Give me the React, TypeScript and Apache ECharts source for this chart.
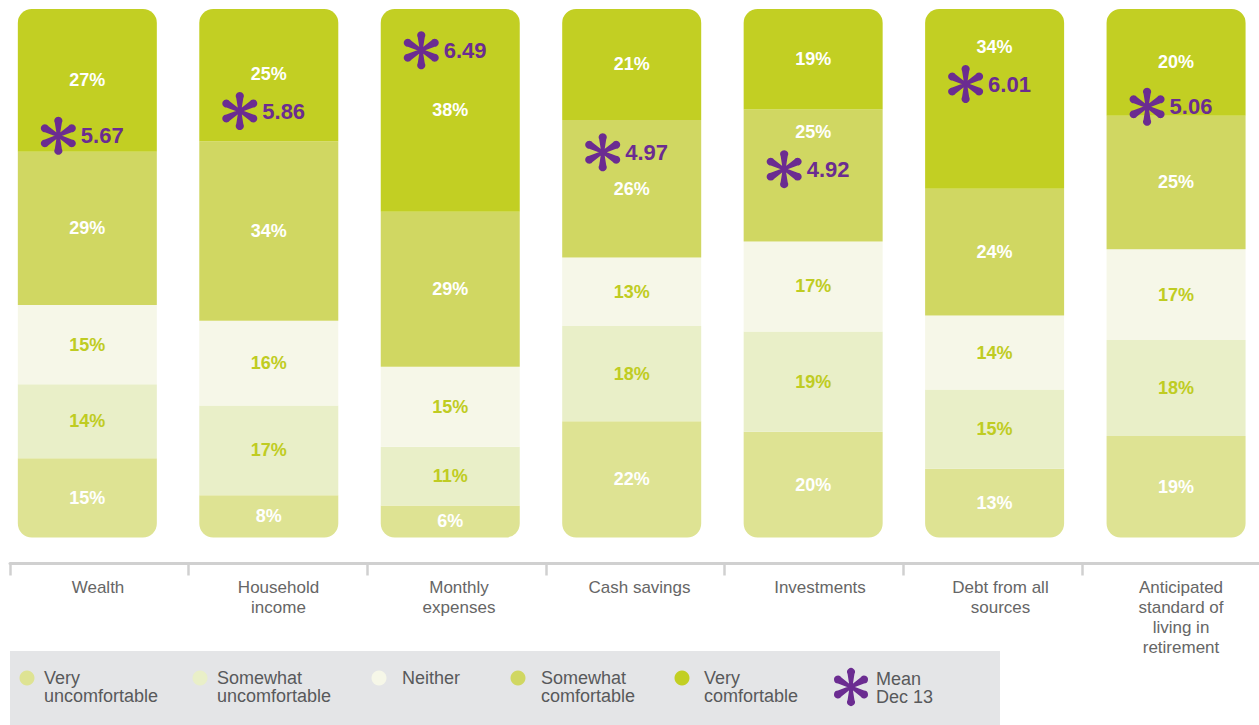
import React, { useEffect, useRef } from "react";
import * as echarts from "echarts";

const categories = [
  "Wealth",
  "Household\nincome",
  "Monthly\nexpenses",
  "Cash savings",
  "Investments",
  "Debt from all\nsources",
  "Anticipated\nstandard of\nliving in\nretirement",
];
const veryUncomfortable = [15, 8, 6, 22, 20, 13, 19];
const somewhatUncomfortable = [14, 17, 11, 18, 19, 15, 18];
const neither = [15, 16, 15, 13, 17, 14, 17];
const somewhatComfortable = [29, 34, 29, 26, 25, 24, 25];
const veryComfortable = [27, 25, 38, 21, 19, 34, 20];
const meanDec13 = [5.67, 5.86, 6.49, 4.97, 4.92, 6.01, 5.06];
// vertical level (on the 0-100 stack scale) where each mean marker sits
const meanMarkerLevel = [76.0, 80.7, 92.2, 72.9, 69.7, 85.8, 81.5];

const seriesNames = [
  "Very uncomfortable",
  "Somewhat uncomfortable",
  "Neither",
  "Somewhat comfortable",
  "Very comfortable",
];
const legendLabels = [
  "Very\nuncomfortable",
  "Somewhat\nuncomfortable",
  "Neither",
  "Somewhat\ncomfortable",
  "Very\ncomfortable",
];
const meanLegendLabel = "Mean\nDec 13";

const COLORS = ["#dee393", "#e9efc8", "#f6f7e8", "#d0d762", "#c2cf23"];
const LABEL_COLORS = ["#ffffff", "#bfcc22", "#bfcc22", "#ffffff", "#ffffff"];
const PURPLE = "#6b2c91";
const FONT = "'Liberation Sans', Arial, Helvetica, sans-serif";
const OFF = 20; // chart canvas is shifted left by this many px inside a clipping wrapper

function asteriskD(): string {
  const cx = 50, cy = 50;
  const parts: string[] = [];
  const pt = (u: number, v: number, th: number) => {
    const c = Math.cos(th), s = Math.sin(th);
    return [(cx + u * c - v * s).toFixed(2), (cy + u * s + v * c).toFixed(2)];
  };
  [-90, -30, 30, 90, 150, 210].forEach((deg) => {
    const th = (deg * Math.PI) / 180;
    const p1 = pt(0, -3.6, th);
    const p2 = pt(33, -8.66, th);
    const p3 = pt(33, 8.66, th);
    const p4 = pt(0, 3.6, th);
    parts.push(
      `M${p1[0]} ${p1[1]} L${p2[0]} ${p2[1]} A10 10 0 1 1 ${p3[0]} ${p3[1]} L${p4[0]} ${p4[1]} Z`
    );
  });
  parts.push("M42 50 A8 8 0 1 1 58 50 A8 8 0 1 1 42 50 Z");
  return parts.join(" ");
}

export default function App() {
  const ref = useRef<HTMLDivElement>(null);

  useEffect(() => {
    if (!ref.current) return;
    const d = asteriskD();
    echarts.graphic.registerShape("asterisk", echarts.graphic.extendPath(d, {}));
    const chart = echarts.init(ref.current, undefined, { renderer: "svg" });

    const raw = [veryUncomfortable, somewhatUncomfortable, neither, somewhatComfortable, veryComfortable];
    const totals = categories.map((_, i) => raw.reduce((s, arr) => s + arr[i], 0));
    const norm = raw.map((arr) => arr.map((v, i) => (v / totals[i]) * 100));
    const pxPerPct = 528.5 / 100;

    const barSeries = raw.map((arr, k) => {
      const data = arr.map((v, i) => {
        let b = 0;
        for (let j = 0; j < k; j++) b += norm[j][i];
        const t = b + norm[k][i];
        const c = (b + t) / 2;
        const m = meanMarkerLevel[i];
        let dy = 0;
        if (m >= b && m <= t && Math.abs(c - m) < 7) {
          const target = m + 7 <= t - 3 ? m + 7 : m - 7;
          dy = (c - target) * pxPerPct;
        }
        return { value: norm[k][i], label: { offset: [0, dy] } };
      });
      let radius: number[] = [0, 0, 0, 0];
      if (k === 0) radius = [0, 0, 14, 14];
      if (k === raw.length - 1) radius = [14, 14, 0, 0];
      return {
        name: seriesNames[k],
        type: "bar",
        stack: "total",
        xAxisIndex: 0,
        yAxisIndex: 0,
        barWidth: 139,
        data,
        itemStyle: { color: COLORS[k], borderRadius: radius },
        label: {
          show: true,
          position: "inside",
          color: LABEL_COLORS[k],
          fontSize: 18,
          fontWeight: "bold",
          fontFamily: FONT,
          formatter: (p: any) => `${arr[p.dataIndex]}%`,
        },
        emphasis: { disabled: true },
      };
    });

    const meanSeries = {
      name: "Mean Dec 13",
      type: "scatter",
      xAxisIndex: 0,
      yAxisIndex: 0,
      symbol: "path://" + d,
      symbolSize: [35, 38],
      symbolOffset: [-29, 0],
      z: 10,
      itemStyle: { color: PURPLE, opacity: 1 },
      data: meanMarkerLevel.map((y, i) => [i, y]),
      label: {
        show: true,
        position: "right",
        distance: 5,
        color: PURPLE,
        fontSize: 22,
        fontWeight: "bold",
        fontFamily: FONT,
        formatter: (p: any) => meanDec13[p.dataIndex].toFixed(2),
      },
      emphasis: { disabled: true },
    };

    // legend drawn as graphic elements
    const legendDotX = [27, 200, 379, 518, 682];
    const legendTextX = [44, 217, 402, 541, 704];
    const legendEls: any[] = [
      {
        type: "rect",
        x: 10 + OFF,
        y: 651,
        silent: true,
        z: 0,
        shape: { x: 0, y: 0, width: 990, height: 80 },
        style: { fill: "#e4e5e7" },
      },
    ];
    const textStyle = {
      fill: "#58595b",
      fontSize: 18,
      fontFamily: FONT,
      lineHeight: 18,
      verticalAlign: "top",
      align: "left",
    };
    seriesNames.forEach((_, k) => {
      legendEls.push({
        type: "circle",
        z: 1,
        silent: true,
        shape: { cx: legendDotX[k] + OFF, cy: 678, r: 7.5 },
        style: { fill: COLORS[k] },
      });
      legendEls.push({
        type: "text",
        z: 1,
        silent: true,
        x: legendTextX[k] + OFF,
        y: 669,
        style: { ...textStyle, text: legendLabels[k] },
      });
    });
    const s = 38 / 96;
    legendEls.push({
      type: "asterisk",
      z: 1,
      silent: true,
      x: 851 + OFF - 50 * s,
      y: 687 - 50 * s,
      scaleX: s,
      scaleY: s,
      style: { fill: PURPLE },
    });
    legendEls.push({
      type: "text",
      z: 1,
      silent: true,
      x: 876 + OFF,
      y: 670,
      style: { ...textStyle, text: meanLegendLabel },
    });

    chart.setOption({
      animation: false,
      backgroundColor: "#ffffff",
      textStyle: { fontFamily: FONT },
      graphic: legendEls,
      grid: [
        { left: -3.4 + OFF, width: 1270.2, top: 9, height: 528.5 },
        { left: 10 + OFF, width: 1250.7, top: 540, height: 23.5 },
        { left: 7.75 + OFF, width: 1263.5, top: 540, height: 23.5 },
      ],
      xAxis: [
        { gridIndex: 0, type: "category", data: categories, show: false },
        {
          gridIndex: 1,
          type: "category",
          data: categories,
          axisLine: { show: true, lineStyle: { color: "#d0d0d0", width: 3 } },
          axisTick: { show: true, interval: 0, length: 12, lineStyle: { color: "#d0d0d0", width: 2.5 } },
          axisLabel: { show: false },
        },
        {
          gridIndex: 2,
          type: "category",
          data: categories,
          axisLine: { show: false },
          axisTick: { show: false },
          axisLabel: {
            interval: 0,
            color: "#666666",
            fontSize: 17,
            lineHeight: 20,
            margin: 14,
            fontFamily: FONT,
          },
        },
      ],
      yAxis: [
        { gridIndex: 0, type: "value", min: 0, max: 100, show: false },
        { gridIndex: 1, type: "value", show: false },
        { gridIndex: 2, type: "value", show: false },
      ],
      series: [...barSeries, meanSeries],
    });

    return () => chart.dispose();
  }, []);

  return (
    <div
      style={{
        position: "absolute",
        left: 0,
        top: 0,
        width: 1259,
        height: 725,
        overflow: "hidden",
      }}
    >
      <div
        ref={ref}
        style={{ position: "absolute", left: -OFF, top: 0, width: 1320, height: 725 }}
      />
    </div>
  );
}
